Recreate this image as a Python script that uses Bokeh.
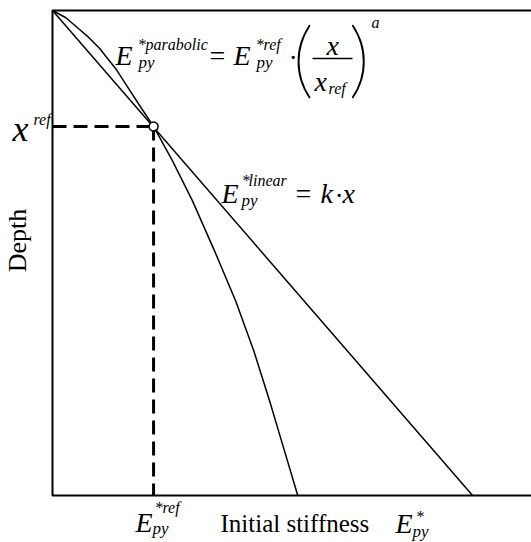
import math
from bokeh.plotting import figure
from bokeh.models import Range1d, ColumnDataSource
from bokeh.core.properties import value
from bokeh.embed import file_html
from bokeh.resources import INLINE

# ---- data ----
depth_max = 10.0
stiff_max = 10.0

linear_depth = [0.0, 10.0]
linear_stiff = [0.0, 8.77]

parab_depth = [0.0, 0.15, 0.37, 0.55, 0.78, 1.20, 1.61, 2.02, 2.39, 3.09, 3.92, 4.95, 5.98, 7.01, 8.04, 9.07, 10.0]
parab_stiff = [0.0, 0.28, 0.54, 0.75, 0.98, 1.32, 1.59, 1.86, 2.11, 2.50, 2.92, 3.38, 3.82, 4.20, 4.53, 4.84, 5.12]

ref_depth = 2.39
ref_stiff = 2.11

SERIF = value("Liberation Serif")
PAREN = value("Lato Thin, Lato Hairline, Lato Light, Liberation Serif")

p = figure(width=531, height=542, output_backend="svg", toolbar_location=None,
           x_axis_location=None, y_axis_location=None, min_border=0,
           x_range=Range1d(-1.0856, 10.0), y_range=Range1d(10.969, -0.2062))
p.outline_line_color = None
p.background_fill_color = "white"
p.border_fill_color = "white"
p.xgrid.visible = False
p.ygrid.visible = False

# frame lines (top, left, bottom)
p.line([stiff_max, 0, 0, stiff_max], [0, 0, depth_max, depth_max], line_color="black", line_width=2)

# curves
p.line(linear_stiff, linear_depth, line_color="black", line_width=1.5)
p.line(parab_stiff, parab_depth, line_color="black", line_width=1.5)

# reference dashed lines
p.line([0, ref_stiff], [ref_depth, ref_depth], line_color="black", line_width=3, line_dash="14 7")
p.line([ref_stiff, ref_stiff], [ref_depth, depth_max], line_color="black", line_width=3, line_dash="14 7")
p.scatter([ref_stiff], [ref_depth], size=9, marker="circle", fill_color="white",
          line_color="black", line_width=1.5)

# formula texts: (s, d, text, size, style)
pieces = [
    # E*parabolic_py = E*ref_py . ( x / x_ref )^a
    (1.315, 0.932, "E", "28px", "italic"),
    (1.795, 0.710, "*", "16px", "normal"),
    (1.942, 0.710, "parabolic", "16px", "italic"),
    (1.795, 1.073, "py", "17px", "italic"),
    (3.278, 0.932, "=", "28px", "normal"),
    (3.779, 0.932, "E", "28px", "italic"),
    (4.259, 0.710, "*", "16px", "normal"),
    (4.405, 0.710, "ref", "16px", "italic"),
    (4.259, 1.073, "py", "17px", "italic"),
    (4.927, 0.973, "·", "28px", "normal"),
    (5.720, 0.726, "x", "28px", "italic"),
    (5.470, 1.468, "x", "28px", "italic"),
    (5.762, 1.617, "ref", "16px", "italic"),
    (6.660, 0.256, "a", "16px", "italic"),
    # E*linear_py = k . x
    (3.528, 3.777, "E", "28px", "italic"),
    (3.967, 3.514, "*", "16px", "normal"),
    (4.092, 3.514, "linear", "16px", "italic"),
    (3.946, 3.918, "py", "17px", "italic"),
    (5.073, 3.777, "=", "28px", "normal"),
    (5.595, 3.777, "k", "28px", "italic"),
    (5.887, 3.819, "·", "28px", "normal"),
    (6.054, 3.777, "x", "28px", "italic"),
    # left tick x^ref
    (-0.835, 2.441, "x", "36px", "italic"),
    (-0.397, 2.256, "ref", "16px", "italic"),
    # bottom tick E*ref_py
    (1.733, 10.561, "E", "28px", "italic"),
    (2.150, 10.256, "*", "16px", "normal"),
    (2.296, 10.256, "ref", "16px", "italic"),
    (2.088, 10.681, "py", "17px", "italic"),
    # x-axis title
    (3.507, 10.583, "Initial stiffness", "25px", "normal"),
    (7.161, 10.582, "E", "28px", "italic"),
    (7.599, 10.442, "*", "16px", "normal"),
    (7.516, 10.745, "py", "17px", "italic"),
]
src = ColumnDataSource(dict(
    s=[q[0] for q in pieces], d=[q[1] for q in pieces], t=[q[2] for q in pieces],
    size=[q[3] for q in pieces], style=[q[4] for q in pieces]))
p.text(x="s", y="d", text="t", source=src, text_font=SERIF, text_font_size="size",
       text_font_style="style", text_align="left", text_baseline="alphabetic", text_color="black")

# large parentheses of the formula
p.text(x=[5.01, 6.18], y=[0.928, 0.928], text=["(", ")"], text_font=PAREN, text_font_size="84px",
       text_align="left", text_baseline="alphabetic", text_color="black")

# fraction bar
p.segment(x0=[5.428], y0=[0.990], x1=[6.263], y1=[0.990], line_color="black", line_width=1.5)

# y-axis title
p.text(x=[-0.731], y=[4.742], text=["Depth"], angle=math.pi / 2, text_font=SERIF,
       text_font_size="26px", text_align="center", text_baseline="middle", text_color="black")

open("out.html", "w").write(file_html(p, INLINE))
